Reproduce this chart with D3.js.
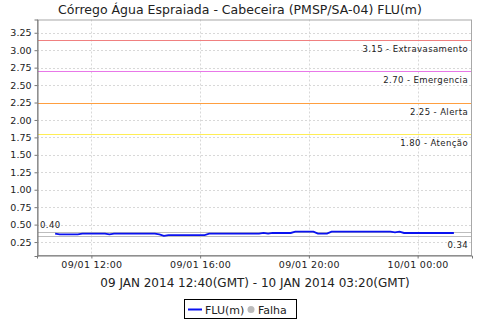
<!DOCTYPE html>
<html><head><meta charset="utf-8">
<script src="https://cdn.jsdelivr.net/npm/d3@7"></script>
<style>
html,body{margin:0;padding:0;background:#fff;}
svg{display:block;font-family:"DejaVu Sans",sans-serif;}
</style></head><body>
<svg id="c" width="480" height="320"></svg>
<script>
const title = "Córrego Água Espraiada - Cabeceira (PMSP/SA-04) FLU(m)";
const xLabel = "09 JAN 2014 12:40(GMT) - 10 JAN 2014 03:20(GMT)";
const seriesName = "FLU(m)";
const failName = "Falha";
// readings every 10 minutes, local time, from 09/01 10:40 to 10/01 01:20
const startTime = [2014, 0, 9, 10, 40];
const stepMinutes = 10;
const fluValues = [
  0.37,0.36,0.36,0.36,0.36,0.36,0.37,0.37,0.37,0.37,0.37,0.37,0.36,0.37,
  0.37,0.37,0.37,0.37,0.37,0.37,0.37,0.37,0.37,0.36,0.34,0.35,0.35,0.35,
  0.35,0.35,0.35,0.35,0.35,0.35,0.37,0.37,0.37,0.37,0.37,0.37,0.37,0.37,
  0.37,0.37,0.37,0.37,0.38,0.37,0.38,0.38,0.38,0.38,0.38,0.40,0.40,0.40,
  0.40,0.40,0.37,0.37,0.37,0.40,0.40,0.40,0.40,0.40,0.40,0.40,0.40,0.40,
  0.40,0.40,0.40,0.40,0.40,0.39,0.40,0.38,0.38,0.38,0.38,0.38,0.38,0.38,
  0.38,0.38,0.38,0.38,0.38
];
const thresholdValues = [3.15, 2.70, 2.25, 1.80];
const thresholdNames = ["Extravasamento", "Emergencia", "Alerta", "Atenção"];
const thresholdColors = ["#F08080", "#E878E8", "#FF9F40", "#FFEE55"];
const maxValue = 0.40, minValue = 0.34;
const yTicks = [0.25,0.50,0.75,1.00,1.25,1.50,1.75,2.00,2.25,2.50,2.75,3.00,3.25];
const xTickTimes = [[2014,0,9,12,0],[2014,0,9,16,0],[2014,0,9,20,0],[2014,0,10,0,0]];
const xDomainTimes = [[2014,0,9,10,0],[2014,0,10,2,0]];
const yDomain = [0.05, 3.44];

const mk = a => new Date(a[0], a[1], a[2], a[3], a[4]);
const t0 = mk(startTime);
const data = fluValues.map((v, i) => ({t: new Date(t0.getTime() + i * stepMinutes * 60000), v}));

const svg = d3.select("#c");
const L = 37, R = 472, T = 19.5, B = 256;
const x = d3.scaleTime().domain(xDomainTimes.map(mk)).range([L, R]);
const y = d3.scaleLinear().domain(yDomain).range([B, T]);

// title
svg.append("text").attr("x", 240).attr("y", 14).attr("text-anchor", "middle")
  .attr("font-size", 12.5).attr("fill", "#222").text(title);

// plot background
svg.append("rect").attr("x", L).attr("y", T).attr("width", R - L).attr("height", B - T)
  .attr("fill", "#fff");

// grid
const g = svg.append("g");
g.selectAll(".gy").data(yTicks).join("line")
  .attr("x1", L).attr("x2", R).attr("y1", d => Math.round(y(d)) + 0.5).attr("y2", d => Math.round(y(d)) + 0.5)
  .attr("stroke", "#d8d8d8").attr("stroke-dasharray", "2,2");
g.selectAll(".gx").data(xTickTimes.map(mk)).join("line")
  .attr("y1", T).attr("y2", B).attr("x1", d => Math.round(x(d)) + 0.5).attr("x2", d => Math.round(x(d)) + 0.5)
  .attr("stroke", "#d8d8d8").attr("stroke-dasharray", "2,2");

// threshold lines
thresholdValues.forEach((v, i) => {
  const yy = Math.round(y(v)) + 0.5;
  svg.append("line").attr("x1", L).attr("x2", R).attr("y1", yy).attr("y2", yy)
    .attr("stroke", thresholdColors[i]).attr("stroke-width", 1.2);
  svg.append("text").attr("x", R - 4).attr("y", yy + 11).attr("text-anchor", "end")
    .attr("font-size", 8.5).attr("letter-spacing", 0.4).attr("fill", "#222")
    .text(v.toFixed(2) + " - " + thresholdNames[i]);
});

// max / min lines
[maxValue, minValue].forEach(v => {
  const yy = Math.round(y(v)) + 0.5;
  svg.append("line").attr("x1", L).attr("x2", R).attr("y1", yy).attr("y2", yy)
    .attr("stroke", "#bdbdbd").attr("stroke-width", 1);
});
svg.append("text").attr("x", L + 3).attr("y", Math.round(y(maxValue)) - 4)
  .attr("font-size", 8.5).attr("letter-spacing", 0.4).attr("fill", "#222").text(maxValue.toFixed(2));
svg.append("text").attr("x", R - 4).attr("y", Math.round(y(minValue)) + 12).attr("text-anchor", "end")
  .attr("font-size", 8.5).attr("letter-spacing", 0.4).attr("fill", "#222").text(minValue.toFixed(2));

// data line
svg.append("path").datum(data)
  .attr("d", d3.line().x(d => x(d.t)).y(d => y(d.v)))
  .attr("fill", "none").attr("stroke", "#0a12f0").attr("stroke-width", 1.8);

// border
svg.append("rect").attr("x", L + 0.5).attr("y", T + 0.5).attr("width", R - L - 1).attr("height", B - T - 1)
  .attr("fill", "none").attr("stroke", "#a8a8a8");

// axes
const yAxis = d3.axisLeft(y).tickValues(yTicks).tickFormat(d3.format(".2f")).tickSizeOuter(0).tickSize(3).tickPadding(3);
const ya = svg.append("g").attr("transform", `translate(${L + 0.5},0)`).call(yAxis);
ya.select(".domain").attr("stroke", "#777");
ya.selectAll(".tick line").attr("stroke", "#777");
ya.selectAll("text").attr("font-size", 9.5).attr("fill", "#222").attr("font-family", "DejaVu Sans");

const xAxis = d3.axisBottom(x).tickValues(xTickTimes.map(mk)).tickFormat(d3.timeFormat("%d/%m %H:%M"))
  .tickSizeOuter(0).tickSize(3).tickPadding(3);
const xa = svg.append("g").attr("transform", `translate(0,${B - 0.5})`).call(xAxis);
xa.select(".domain").attr("stroke", "#777");
xa.selectAll(".tick line").attr("stroke", "#777");
xa.selectAll("text").attr("font-size", 9.5).attr("fill", "#222").attr("letter-spacing", 0.3).attr("font-family", "DejaVu Sans");

// x label
svg.append("text").attr("x", 255).attr("y", 287).attr("text-anchor", "middle")
  .attr("font-size", 12).attr("fill", "#222").text(xLabel);

// legend
const lg = svg.append("g");
lg.append("rect").attr("x", 184.5).attr("y", 299.5).attr("width", 112).attr("height", 19)
  .attr("fill", "#fff").attr("stroke", "#000");
lg.append("line").attr("x1", 188).attr("x2", 202).attr("y1", 309.5).attr("y2", 309.5)
  .attr("stroke", "#0a12f0").attr("stroke-width", 2);
lg.append("text").attr("x", 205).attr("y", 313.5).attr("font-size", 11).attr("fill", "#222").text(seriesName);
lg.append("circle").attr("cx", 251).attr("cy", 309.5).attr("r", 3.5).attr("fill", "#bbb");
lg.append("text").attr("x", 258).attr("y", 313.5).attr("font-size", 11).attr("fill", "#222").text(failName);
</script>
</body></html>
